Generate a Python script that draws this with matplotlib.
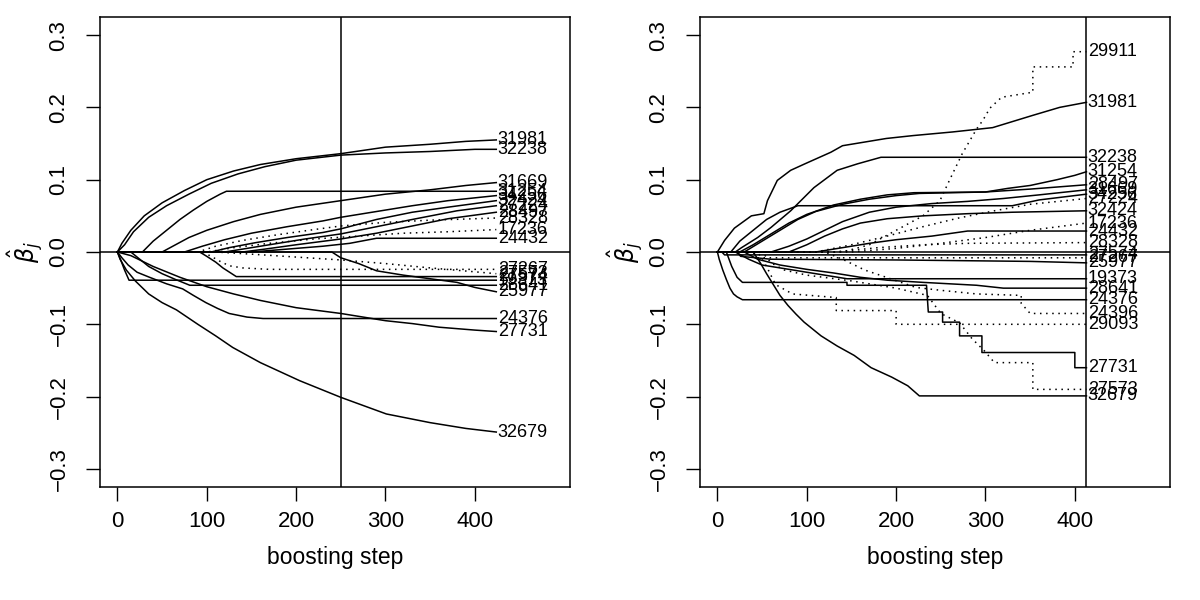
import numpy as np
import matplotlib
matplotlib.use("Agg")
import matplotlib.pyplot as plt

plt.rcParams["font.family"] = ["Liberation Sans", "DejaVu Sans"]
plt.rcParams["mathtext.fontset"] = "dejavusans"

# ---- left panel: coefficient paths (knots) ----
left_stop = 250
left_names = ["31981", "32238", "31254", "31669", "34256", "32424", "27224",
              "28497", "28328", "17236", "24432", "27267", "27573", "27574",
              "19373", "28641", "25977", "24376", "27731", "32679"]
left_dotted = [0, 0, 0, 0, 0, 0, 0, 0, 1, 1, 0, 1, 1, 0, 0, 0, 0, 0, 0, 0]
left_steps = [
    [0, 5, 15, 30, 50, 75, 100, 130, 160, 200, 250, 300, 350, 390, 424],
    [0, 8, 18, 35, 55, 80, 105, 135, 165, 200, 250, 300, 350, 400, 424],
    [0, 28, 40, 55, 70, 85, 100, 115, 122, 424],
    [0, 50, 65, 80, 100, 130, 160, 200, 250, 300, 350, 390, 424],
    [0, 75, 95, 120, 150, 190, 230, 250, 290, 330, 370, 424],
    [0, 105, 125, 155, 190, 230, 250, 290, 330, 370, 424],
    [0, 120, 140, 170, 210, 250, 290, 330, 380, 424],
    [0, 140, 165, 200, 250, 290, 330, 370, 424],
    [0, 90, 110, 140, 180, 220, 250, 300, 350, 424],
    [0, 100, 130, 170, 220, 270, 320, 370, 424],
    [0, 150, 190, 230, 260, 290, 424],
    [0, 95, 105, 115, 125, 140, 170, 424],
    [0, 110, 150, 200, 250, 300, 350, 424],
    [0, 92, 100, 110, 118, 133, 424],
    [0, 4, 8, 13, 424],
    [0, 15, 25, 35, 50, 65, 81, 424],
    [0, 240, 250, 270, 290, 320, 350, 380, 400, 424],
    [0, 5, 12, 22, 36, 55, 73, 85, 99, 112, 125, 145, 163, 424],
    [0, 15, 40, 70, 100, 130, 160, 200, 250, 300, 330, 360, 400, 424],
    [0, 3, 10, 20, 35, 50, 66, 90, 110, 129, 160, 204, 250, 301, 350, 390, 424],
]
left_values = [
    [0, 0.012, 0.03, 0.05, 0.068, 0.085, 0.1, 0.112, 0.121, 0.129, 0.136, 0.145, 0.149, 0.153, 0.155],
    [0, 0.01, 0.028, 0.048, 0.064, 0.08, 0.095, 0.108, 0.118, 0.127, 0.134, 0.137, 0.139, 0.142, 0.142],
    [0, 0, 0.015, 0.03, 0.045, 0.058, 0.07, 0.08, 0.084, 0.084],
    [0, 0, 0.01, 0.02, 0.03, 0.042, 0.052, 0.062, 0.071, 0.080, 0.086, 0.092, 0.096],
    [0, 0, 0.008, 0.017, 0.026, 0.035, 0.043, 0.048, 0.056, 0.064, 0.071, 0.078],
    [0, 0, 0.006, 0.013, 0.02, 0.027, 0.032, 0.045, 0.055, 0.062, 0.071],
    [0, 0, 0.004, 0.01, 0.018, 0.025, 0.035, 0.045, 0.057, 0.064],
    [0, 0, 0.004, 0.01, 0.018, 0.026, 0.036, 0.046, 0.055],
    [0, 0, 0.008, 0.016, 0.024, 0.031, 0.036, 0.041, 0.044, 0.047],
    [0, 0, 0.006, 0.012, 0.018, 0.022, 0.026, 0.028, 0.031],
    [0, 0, 0.004, 0.008, 0.012, 0.019, 0.019],
    [0, 0, -0.006, -0.013, -0.019, -0.022, -0.024, -0.024],
    [0, 0, -0.003, -0.007, -0.011, -0.016, -0.022, -0.030],
    [0, 0, -0.006, -0.014, -0.022, -0.034, -0.034],
    [0, -0.012, -0.025, -0.039, -0.039],
    [0, 0, -0.01, -0.02, -0.03, -0.038, -0.046, -0.046],
    [0, 0, -0.008, -0.016, -0.026, -0.032, -0.037, -0.042, -0.049, -0.055],
    [0, -0.008, -0.018, -0.028, -0.035, -0.044, -0.051, -0.06, -0.07, -0.078, -0.085, -0.09, -0.092, -0.092],
    [0, -0.005, -0.02, -0.035, -0.048, -0.058, -0.067, -0.077, -0.085, -0.095, -0.099, -0.104, -0.108, -0.110],
    [0, -0.01, -0.025, -0.04, -0.058, -0.07, -0.08, -0.1, -0.116, -0.132, -0.153, -0.178, -0.201, -0.224, -0.236, -0.244, -0.249],
]

# ---- right panel ----
right_stop = 413
right_names = ["29911", "31981", "32238", "31254", "28497", "31669", "34256",
               "27224", "32424", "17236", "24432", "28328", "27574", "27267",
               "25977", "19373", "28641", "24376", "24396", "29093", "27731",
               "27573", "32679"]
right_dotted = [1, 0, 0, 0, 0, 0, 0, 1, 0, 1, 0, 1, 0, 1, 0, 0, 0, 0, 1, 1, 0, 1, 0]
right_steps = [
    [0, 140, 170, 200, 230, 249, 260, 274, 290, 297, 305, 318, 353, 353, 398, 398, 413],
    [0, 8, 19, 38, 52, 56, 67, 82, 98, 127, 140, 189, 219, 263, 308, 353, 383, 413],
    [0, 20, 27, 45, 60, 82, 108, 134, 157, 183, 413],
    [0, 25, 40, 60, 80, 100, 130, 160, 190, 220, 300, 325, 350, 380, 400, 413],
    [0, 30, 50, 70, 90, 110, 140, 170, 200, 226, 300, 350, 413],
    [0, 60, 80, 100, 120, 140, 170, 200, 240, 280, 320, 360, 413],
    [0, 15, 25, 40, 55, 70, 90, 330, 360, 413],
    [0, 110, 150, 190, 230, 270, 310, 350, 413],
    [0, 80, 100, 120, 140, 160, 190, 230, 280, 330, 413],
    [0, 150, 200, 250, 300, 350, 413],
    [0, 110, 140, 170, 200, 240, 280, 413],
    [0, 130, 180, 230, 280, 413],
    [0, 5, 8, 413],
    [0, 40, 45, 413],
    [0, 22, 26, 60, 200, 350, 413],
    [0, 20, 35, 50, 70, 90, 110, 130, 145, 413],
    [0, 30, 45, 70, 100, 130, 160, 190, 230, 260, 290, 320, 413],
    [0, 2, 6, 10, 14, 18, 22, 28, 413],
    [0, 120, 140, 165, 189, 222, 250, 290, 340, 340, 350, 413],
    [0, 45, 55, 65, 84, 133, 133, 200, 200, 413],
    [0, 10, 16, 22, 28, 145, 145, 234, 236, 252, 252, 271, 271, 296, 296, 400, 400, 413],
    [0, 50, 60, 75, 100, 150, 200, 235, 250, 271, 285, 299, 310, 353, 353, 413],
    [0, 40, 48, 55, 62, 70, 79, 88, 97, 116, 134, 153, 172, 195, 213, 226, 413],
]
right_values = [
    [0, 0, 0.01, 0.03, 0.05, 0.071, 0.10, 0.136, 0.17, 0.182, 0.199, 0.214, 0.221, 0.256, 0.256, 0.277, 0.277],
    [0, 0.016, 0.033, 0.05, 0.053, 0.071, 0.099, 0.113, 0.122, 0.138, 0.147, 0.157, 0.161, 0.166, 0.172, 0.189, 0.2, 0.207],
    [0, 0, 0.006, 0.02, 0.034, 0.057, 0.089, 0.113, 0.122, 0.131, 0.131],
    [0, 0, 0.01, 0.025, 0.04, 0.052, 0.065, 0.073, 0.079, 0.082, 0.083, 0.088, 0.092, 0.1, 0.106, 0.111],
    [0, 0, 0.015, 0.03, 0.045, 0.056, 0.066, 0.073, 0.078, 0.081, 0.083, 0.087, 0.093],
    [0, 0, 0.008, 0.018, 0.03, 0.042, 0.055, 0.062, 0.067, 0.07, 0.074, 0.079, 0.086],
    [0, 0, 0.015, 0.03, 0.045, 0.055, 0.064, 0.064, 0.072, 0.080],
    [0, 0, 0.01, 0.022, 0.035, 0.047, 0.057, 0.066, 0.074],
    [0, 0, 0.01, 0.022, 0.032, 0.04, 0.046, 0.05, 0.053, 0.055, 0.057],
    [0, 0, 0.005, 0.012, 0.02, 0.03, 0.040],
    [0, 0, 0.006, 0.012, 0.017, 0.022, 0.029, 0.029],
    [0, 0, 0.006, 0.01, 0.012, 0.013],
    [0, 0, -0.004, -0.004],
    [0, 0, -0.008, -0.008],
    [0, 0, -0.006, -0.01, -0.011, -0.013, -0.015],
    [0, 0, -0.01, -0.018, -0.022, -0.026, -0.03, -0.034, -0.037, -0.037],
    [0, 0, -0.01, -0.018, -0.024, -0.029, -0.035, -0.039, -0.042, -0.044, -0.046, -0.050, -0.050],
    [0, -0.01, -0.025, -0.038, -0.05, -0.058, -0.062, -0.066, -0.066],
    [0, 0, -0.01, -0.025, -0.035, -0.049, -0.053, -0.058, -0.06, -0.071, -0.085, -0.085],
    [0, 0, -0.02, -0.045, -0.058, -0.063, -0.081, -0.081, -0.100, -0.100],
    [0, 0, -0.02, -0.035, -0.042, -0.042, -0.046, -0.046, -0.083, -0.083, -0.097, -0.097, -0.116, -0.116, -0.139, -0.139, -0.160, -0.160],
    [0, 0, -0.015, -0.025, -0.032, -0.04, -0.05, -0.06, -0.085, -0.098, -0.12, -0.137, -0.153, -0.153, -0.190, -0.190],
    [0, 0, -0.015, -0.03, -0.044, -0.06, -0.074, -0.086, -0.097, -0.116, -0.13, -0.143, -0.16, -0.173, -0.185, -0.199, -0.199],
]

xticks = [0, 100, 200, 300, 400]
yticks = [-0.3, -0.2, -0.1, 0.0, 0.1, 0.2, 0.3]
ytick_labels = ["\u22120.3", "\u22120.2", "\u22120.1", "0.0", "0.1", "0.2", "0.3"]


def draw_panel(ax, names, dotted, steps, values, stop):
    for name, dot, s, v in zip(names, dotted, steps, values):
        ls = (0, (1, 3)) if dot else "-"
        ax.plot(s, v, color="black", lw=1.1, ls=ls)
        ax.annotate(name, (s[-1], v[-1]), xytext=(1, 0), textcoords="offset points",
                    ha="left", va="center", fontsize=13)
    ax.axhline(0, color="black", lw=1.1)
    ax.axvline(stop, color="black", lw=1.1)
    ax.set_xlim(-19.5, 506.5)
    ax.set_ylim(-0.325, 0.325)
    ax.set_xticks(xticks)
    ax.set_yticks(yticks)
    ax.set_yticklabels(ytick_labels, rotation=90, va="center")
    ax.tick_params(axis="both", direction="out", length=10, width=1.0, labelsize=16)
    ax.tick_params(axis="x", pad=7)
    ax.tick_params(axis="y", pad=12)
    for sp in ax.spines.values():
        sp.set_linewidth(1.1)
    ax.set_xlabel("boosting step", fontsize=16.5)
    ax.xaxis.set_label_coords(0.5, -0.125)
    ax.set_ylabel(r"$\hat{\beta}_j$", fontsize=17)
    ax.yaxis.set_label_coords(-0.115, 0.5)


fig = plt.figure(figsize=(12, 6), dpi=100)
ax1 = fig.add_axes([100 / 1200, 1 - 487 / 600, 470 / 1200, 470 / 600])
ax2 = fig.add_axes([700 / 1200, 1 - 487 / 600, 470 / 1200, 470 / 600])

draw_panel(ax1, left_names, left_dotted, left_steps, left_values, left_stop)
draw_panel(ax2, right_names, right_dotted, right_steps, right_values, right_stop)

fig.savefig("out.png", dpi=100)
